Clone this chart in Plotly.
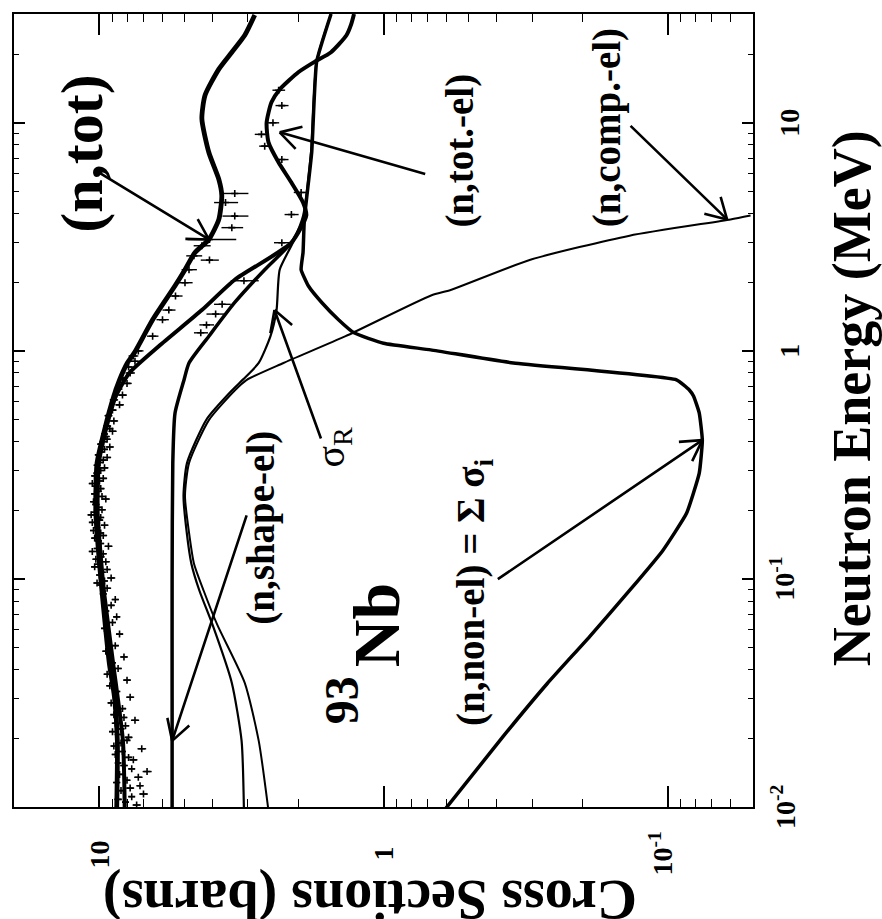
import math
import plotly.graph_objects as go

FONT = "Liberation Serif"

# ---------------- calculated curves (energy in MeV, cross section in barns) ----------------
E_tot = [0.0096, 0.0195, 0.0305, 0.0425, 0.0838, 0.117, 0.194, 0.322, 0.45, 0.634, 0.746, 0.885, 0.98,
         1.37, 1.93, 2.27, 2.70, 3.08, 3.77, 4.80, 5.65, 7.41, 10.4, 13.2, 17.2, 20.4, 24.2, 29.7]
S_tot = [8.7, 8.65, 8.86, 9.23, 9.76, 10.0, 10.3, 10.2, 9.6, 8.9, 8.5, 7.98, 7.54,
         6.5, 5.42, 5.0, 4.61, 4.12, 3.80, 3.71, 3.80, 4.12, 4.36, 4.25, 3.80, 3.42, 3.08, 2.84]

E_totel = [0.0096, 0.0195, 0.0425, 0.084, 0.117, 0.194, 0.322, 0.45, 0.634, 0.80, 1.05, 1.51, 2.05,
           2.98, 3.92, 4.47, 5.47, 6.70, 8.21, 10.0, 12.3, 14.0, 16.7, 18.5, 20.4, 24.2, 27.0, 30.0]
S_totel = [8.15, 8.27, 8.95, 9.6, 9.85, 10.15, 10.05, 9.5, 8.75, 7.85, 6.17, 4.36, 3.34,
           2.11, 1.87, 1.92, 2.11, 2.34, 2.54, 2.58, 2.48, 2.32, 1.99, 1.75, 1.53, 1.35, 1.30, 1.27]

E_shape = [0.0096, 0.03, 0.1, 0.322, 0.534, 0.746, 0.885, 1.16, 1.63, 2.27, 2.98, 3.77]
S_shape = [5.55, 5.55, 5.55, 5.52, 5.42, 5.04, 4.84, 4.12, 3.34, 2.62, 2.11, 1.90]

E_comp = [0.0096, 0.0195, 0.035, 0.063, 0.089, 0.117, 0.16, 0.231, 0.322, 0.497, 0.67, 0.746,
          0.885, 1.16, 1.75, 1.85, 2.51, 3.2, 3.77, 3.92]
S_comp = [2.54, 2.75, 3.08, 3.85, 4.3, 4.65, 4.84, 5.0, 4.84, 4.12, 3.34, 3.03,
          2.25, 1.36, 0.68, 0.58, 0.304, 0.136, 0.060, 0.051]

E_reac = [0.0096, 0.0195, 0.035, 0.063, 0.089, 0.117, 0.16, 0.231, 0.322, 0.5, 0.67, 0.75, 0.885,
          1.16, 1.51, 2.27, 3.0, 3.9, 7.4, 18.5, 30.0]
S_reac = [3.1, 3.16, 3.42, 4.0, 4.45, 4.75, 4.93, 5.06, 4.92, 4.2, 3.42, 3.12, 2.75,
          2.5, 2.38, 2.32, 2.08, 1.92, 1.8, 1.72, 1.53]

E_nonel = [0.0096, 0.0204, 0.0348, 0.0559, 0.089, 0.133, 0.194, 0.291, 0.406, 0.534, 0.634, 0.674,
           0.746, 0.885, 1.01, 1.08, 1.20, 1.37, 1.63, 1.93, 2.27, 2.70, 3.77, 7.41, 18.5, 30.0]
S_nonel = [0.614, 0.379, 0.265, 0.188, 0.136, 0.104, 0.0857, 0.0773, 0.0754, 0.0773, 0.081, 0.0838,
           0.093, 0.349, 0.682, 1.0, 1.27, 1.44, 1.65, 1.84, 1.95, 1.92, 1.90, 1.79, 1.72, 1.53]

# ---------------- experimental data ----------------
E_dtot = [0.0102, 0.0108, 0.0114, 0.0121, 0.0128, 0.0135, 0.0143, 0.0152, 0.0161, 0.0170, 0.0180,
          0.0191, 0.0202, 0.0214, 0.0227, 0.0240, 0.0254, 0.0270, 0.0286, 0.0303, 0.0321, 0.0340,
          0.0360, 0.0382, 0.0405, 0.0429, 0.0455, 0.0482, 0.0510, 0.0541, 0.0573, 0.0607, 0.0644,
          0.0682, 0.0723, 0.0766, 0.0812, 0.0860, 0.091, 0.096, 0.101, 0.107, 0.113, 0.119, 0.125,
          0.132, 0.139, 0.147, 0.155, 0.163, 0.172, 0.181, 0.191, 0.201, 0.212, 0.224, 0.236, 0.249,
          0.262, 0.276, 0.291, 0.307, 0.324, 0.341, 0.360, 0.379, 0.400, 0.421, 0.444, 0.468, 0.493,
          0.52, 0.55, 0.58, 0.61, 0.64, 0.68, 0.72, 0.76, 0.80, 0.85, 0.90, 0.95, 1.0, 1.16, 1.37,
          1.51, 1.74, 1.99, 2.27, 2.5, 2.61, 2.89, 3.08, 3.47, 3.9, 4.47, 4.9,
          0.0105, 0.0111, 0.0118, 0.0124, 0.0131, 0.0139, 0.0147, 0.0156, 0.0165, 0.0175, 0.0185,
          0.0196, 0.0208, 0.0220, 0.0233, 0.0247, 0.0262,
          0.094, 0.098, 0.104, 0.110, 0.116, 0.122, 0.129, 0.136, 0.143, 0.151, 0.159, 0.168, 0.177,
          0.186, 0.196, 0.206, 0.218, 0.230, 0.242, 0.255, 0.269, 0.283, 0.299, 0.315, 0.332, 0.350,
          0.370, 0.390, 0.410, 0.432, 0.456]
S_dtot = [7.4, 8.6, 7.0, 7.8, 8.7, 7.3, 6.8, 8.2, 7.6, 8.8, 7.1,
          8.4, 7.9, 9.0, 8.1, 7.5, 8.9, 8.3, 9.1, 7.8, 8.7, 9.2,
          8.0, 9.4, 8.6, 9.0, 8.2, 9.5, 8.8, 9.3, 8.5, 9.6, 9.0,
          8.7, 9.5, 9.1, 8.8, 9.7, 9.4, 10.2, 9.1, 9.8, 10.4, 9.5, 9.9,
          10.6, 9.3, 10.1, 9.7, 10.5, 9.6, 10.0, 10.7, 9.8, 10.3, 9.5, 10.4, 9.9,
          10.6, 9.7, 10.2, 9.6, 10.0, 9.4, 9.9, 9.2, 9.7, 9.5, 9.0, 9.4, 8.9,
          9.3, 9.0, 8.5, 8.9, 8.3, 8.6, 8.0, 8.3, 7.8, 7.9, 7.5, 7.6, 7.3, 6.5, 6.0,
          5.7, 5.4, 5.0, 4.84, 4.1, 4.65, 4.36, 4.1, 3.42, 3.34, 3.6, 3.34,
          8.1, 7.7, 8.4, 7.2, 8.0, 8.5, 7.7, 8.6, 7.9, 8.3, 8.9,
          8.0, 8.6, 8.4, 8.8, 8.2, 8.6,
          9.9, 9.6, 10.0, 9.4, 10.1, 10.3, 9.7, 10.2, 9.9, 10.4, 9.9, 10.2, 10.6,
          9.9, 10.4, 10.1, 10.5, 9.8, 10.1, 10.3, 10.0, 10.4, 9.9, 10.2, 9.7, 10.1,
          9.6, 9.9, 9.4, 9.6, 9.2]
R_dtot = ([0.25] * 38 + [0.3] * 46 +
          [0.3, 0.3, 0.3, 0.3, 0.3, 0.3, 0.3, 0.3, 0.3, 0.8, 0.3, 0.35, 0.35, 0.35] +
          [0.2] * 17 + [0.25] * 31)

E_del = [1.2, 1.3, 1.45, 1.6, 2.03, 2.98, 3.96, 4.95, 6.9, 7.9, 8.9, 10.0, 11.9, 13.9]
S_del = [4.4, 4.2, 3.9, 3.7, 3.1, 2.28, 2.11, 1.95, 2.28, 2.62, 2.69, 2.45, 2.28, 2.34]
R_del = [0.25, 0.25, 0.3, 0.25, 0.35, 0.15, 0.12, 0.12, 0.12, 0.12, 0.15, 0.12, 0.12, 0.12]

# ---------------- axis ticks ----------------
X_TICKS = [10, 1, 0.1]
X_TICKTEXT = ["10", "1", "10<sup>-1</sup>"]
Y_TICKS = [0.01, 0.1, 1, 10]
Y_TICKTEXT = ["10<sup>-2</sup>", "10<sup>-1</sup>", "1", "10"]

fig = go.Figure()


def curve(E, S, width, smooth=0.6):
    fig.add_trace(go.Scatter(x=S, y=E, mode="lines",
                             line=dict(color="black", width=width, shape="spline", smoothing=smooth),
                             hoverinfo="skip", showlegend=False))


curve(E_comp, S_comp, 2)
curve(E_reac, S_reac, 2.2)
curve(E_shape, S_shape, 3.5)
curve(E_nonel, S_nonel, 3.5, 0.4)
curve(E_totel, S_totel, 4)
curve(E_tot, S_tot, 4.8)

for E, S, R in [(E_dtot, S_dtot, R_dtot), (E_del, S_del, R_del)]:
    fig.add_trace(go.Scatter(x=S, y=E, mode="markers",
                             marker=dict(symbol="cross-thin", size=5, color="black",
                                         line=dict(width=1.6, color="black")),
                             error_x=dict(type="data", array=R, color="black", thickness=1.4, width=0),
                             hoverinfo="skip", showlegend=False))

W, H = 882, 919
L, R, T, B = 12, 753, 13, 807


def px(xp, yp):
    return (xp - L) / (R - L), 1 - (yp - T) / (B - T)


def label(text, xp, yp, size, angle=-90, weight="bold"):
    x, y = px(xp, yp)
    fig.add_annotation(text=text, x=x, y=y, xref="paper", yref="paper", showarrow=False,
                       textangle=angle, xanchor="center", yanchor="middle",
                       font=dict(family=FONT, size=size, color="black", weight=weight))


label("(n,tot)", 80, 153, 60)
label("(n,tot.-el)", 459, 150, 39)
label("(n,comp.-el)", 606, 127, 39)
label("(n,shape-el)", 260, 527, 39)
label("σ<sub>R</sub>", 332, 447, 40, weight="normal")
label("(n,non-el) = Σ σ<sub>i</sub>", 473, 592, 39)
label("Nb", 375, 625, 66)
label("93", 340, 700, 48)
label("Neutron Energy (MeV)", 852, 398, 54)
label("Cross Sections (barns)", 369, 899, 56, angle=180)

# tick labels (rotated like the rest of the figure)
TICK_SIZE = 28
for v, t in zip(X_TICKS, X_TICKTEXT):
    fig.add_annotation(text=t, x=math.log10(v), y=px(0, 854)[1], xref="x", yref="paper",
                       showarrow=False, textangle=-90, xanchor="center", yanchor="middle",
                       xshift=-6 if "sup" in t else 0,
                       font=dict(family=FONT, size=TICK_SIZE, color="black", weight="bold"))
for v, t in zip(Y_TICKS, Y_TICKTEXT):
    fig.add_annotation(text=t, x=px(790 if "sup" not in t else 783, 0)[0], y=math.log10(v),
                       xref="paper", yref="y",
                       showarrow=False, textangle=-90, xanchor="center", yanchor="middle",
                       font=dict(family=FONT, size=TICK_SIZE, color="black", weight="bold"))

# arrows: head (sigma, E) and tail offset in pixels
ARROWS = [
    (4.12, 3.08, -110, -67),
    (2.32, 9.08, 147, 42),
    (0.0617, 3.77, -98, -95),
    (5.55, 0.0195, 75, -227),
    (2.42, 1.51, 47, 130),
    (0.0754, 0.406, -206, 140),
]


def arrow(s, e, ax, ay, width=2.6, hl=25, ha=30):
    base = dict(x=math.log10(s), y=math.log10(e), xref="x", yref="y", axref="pixel", ayref="pixel",
                showarrow=True, arrowhead=0, arrowwidth=width, arrowcolor="black", text="",
                standoff=0, startstandoff=0)
    fig.add_annotation(ax=ax, ay=ay, **base)
    ln = math.hypot(ax, ay)
    ux, uy = ax / ln, ay / ln
    for sgn in (1, -1):
        a = math.radians(ha * sgn)
        vx = ux * math.cos(a) - uy * math.sin(a)
        vy = ux * math.sin(a) + uy * math.cos(a)
        fig.add_annotation(ax=vx * hl, ay=vy * hl, **base)


for a in ARROWS:
    arrow(*a)

fig.update_xaxes(type="log", range=[math.log10(20), math.log10(0.05)],
                 tickmode="array", tickvals=X_TICKS, showticklabels=False,
                 ticks="inside", ticklen=21, tickwidth=1.5, tickcolor="black",
                 showline=True, linewidth=2, linecolor="black", mirror="ticks",
                 showgrid=False, zeroline=False,
                 minor=dict(ticks="inside", ticklen=8, tickwidth=1, tickcolor="black", dtick="D1", showgrid=False))
fig.update_yaxes(type="log", range=[-2, math.log10(30)], side="right",
                 tickmode="array", tickvals=Y_TICKS, showticklabels=False,
                 ticks="inside", ticklen=11, tickwidth=1.5, tickcolor="black",
                 showline=True, linewidth=2, linecolor="black", mirror="ticks",
                 showgrid=False, zeroline=False,
                 minor=dict(ticks="inside", ticklen=5, tickwidth=1, tickcolor="black", dtick="D1", showgrid=False))

fig.update_layout(width=W, height=H, margin=dict(l=L, r=W - R, t=T, b=H - B),
                  paper_bgcolor="white", plot_bgcolor="white", showlegend=False)

fig.write_html("out.html")
